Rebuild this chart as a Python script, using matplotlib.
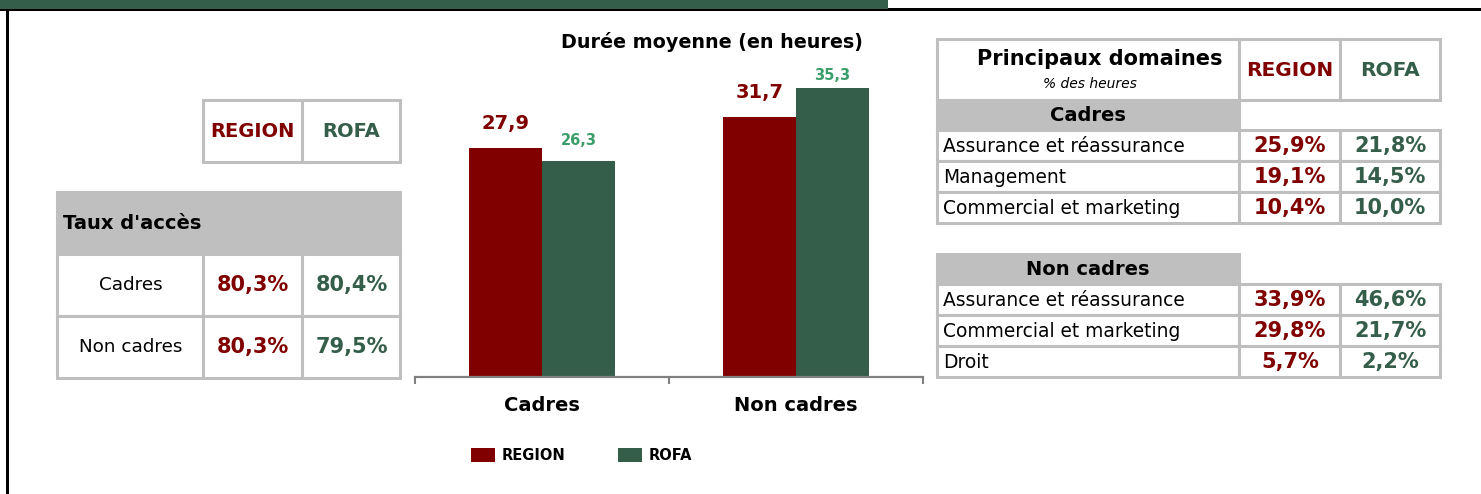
import matplotlib
matplotlib.use("Agg")
import matplotlib.pyplot as plt
from matplotlib.patches import Rectangle

# data
categories = ["Cadres", "Non cadres"]
duree_region = [27.9, 31.7]
duree_rofa = [26.3, 35.3]

acces_labels = ["Cadres", "Non cadres"]
acces_region = [80.3, 80.3]
acces_rofa = [80.4, 79.5]

cadres_domaines = ["Assurance et réassurance", "Management", "Commercial et marketing"]
cadres_region = [25.9, 19.1, 10.4]
cadres_rofa = [21.8, 14.5, 10.0]

noncadres_domaines = ["Assurance et réassurance", "Commercial et marketing", "Droit"]
noncadres_region = [33.9, 29.8, 5.7]
noncadres_rofa = [46.6, 21.7, 2.2]

RED = "#800000"
GREEN = "#355E4A"
LIGHTGREEN = "#3A9E6A"
GRAY = "#BFBFBF"


def fr(v, pct=False):
    s = f"{v:.1f}".replace(".", ",")
    return s + "%" if pct else s


W, H = 1481, 494
fig = plt.figure(figsize=(W / 100, H / 100), dpi=100)

# overlay axes in pixel coords for the frame and the tables
ax0 = fig.add_axes([0, 0, 1, 1])
ax0.set_xlim(0, W)
ax0.set_ylim(H, 0)
ax0.axis("off")

# frame: black lines + green band on top
ax0.add_patch(Rectangle((0, 8), W, 3, color="black", lw=0))
ax0.add_patch(Rectangle((6, 8), 3, H, color="black", lw=0))
ax0.add_patch(Rectangle((0, 0), 888, 9, color=GREEN, lw=0))


def cell(x0, y0, x1, y1, fill="white"):
    ax0.add_patch(Rectangle((x0, y0), x1 - x0, y1 - y0, facecolor=fill,
                            edgecolor=GRAY, lw=2.2))


# ---- left table : taux d'acces
cell(203, 100, 302, 162)
cell(302, 100, 400, 162)
ax0.text(252, 131, "REGION", color=RED, fontsize=14, fontweight="bold", ha="center", va="center")
ax0.text(351, 131, "ROFA", color=GREEN, fontsize=14, fontweight="bold", ha="center", va="center")

cell(57, 192, 400, 254, fill=GRAY)
ax0.text(63, 223, "Taux d'accès", fontsize=14, fontweight="bold", ha="left", va="center")

for i, lab in enumerate(acces_labels):
    y0 = 254 + i * 62
    cell(57, y0, 203, y0 + 62)
    cell(203, y0, 302, y0 + 62)
    cell(302, y0, 400, y0 + 62)
    ax0.text(131, y0 + 31, lab, fontsize=13.2, ha="center", va="center")
    ax0.text(253, y0 + 31, fr(acces_region[i], True), color=RED, fontsize=15,
             fontweight="bold", ha="center", va="center")
    ax0.text(352, y0 + 31, fr(acces_rofa[i], True), color=GREEN, fontsize=15,
             fontweight="bold", ha="center", va="center")

# ---- right table : principaux domaines
cell(937, 39, 1239, 100)
cell(1239, 39, 1340, 100)
cell(1340, 39, 1440, 100)
ax0.text(1100, 59, "Principaux domaines", fontsize=15, fontweight="bold", ha="center", va="center")
ax0.text(1090, 84, "% des heures", fontsize=10, style="italic", ha="center", va="center")
ax0.text(1290, 70, "REGION", color=RED, fontsize=14.5, fontweight="bold", ha="center", va="center")
ax0.text(1390, 70, "ROFA", color=GREEN, fontsize=14.5, fontweight="bold", ha="center", va="center")


def block(ytop, title, names, reg, rofa):
    cell(937, ytop, 1239, ytop + 30, fill=GRAY)
    ax0.text(1088, ytop + 15, title, fontsize=14, fontweight="bold", ha="center", va="center")
    for i, name in enumerate(names):
        y0 = ytop + 30 + i * 31
        cell(937, y0, 1239, y0 + 31)
        cell(1239, y0, 1340, y0 + 31)
        cell(1340, y0, 1440, y0 + 31)
        ax0.text(943, y0 + 16, name, fontsize=13.4, ha="left", va="center")
        ax0.text(1290, y0 + 16, fr(reg[i], True), color=RED, fontsize=15,
                 fontweight="bold", ha="center", va="center")
        ax0.text(1390, y0 + 16, fr(rofa[i], True), color=GREEN, fontsize=15,
                 fontweight="bold", ha="center", va="center")


block(100, "Cadres", cadres_domaines, cadres_region, cadres_rofa)
block(254, "Non cadres", noncadres_domaines, noncadres_region, noncadres_rofa)

# ---- bar chart : duree moyenne
ax = fig.add_axes([415 / W, 1 - 377 / H, 508 / W, 328 / H])
ax.patch.set_alpha(0)
x = range(len(categories))
bw = 0.287
b1 = ax.bar([i - bw / 2 for i in x], duree_region, bw, color=RED, label="REGION")
b2 = ax.bar([i + bw / 2 for i in x], duree_rofa, bw, color=GREEN, label="ROFA")
ax.bar_label(b1, labels=[fr(v) for v in duree_region], padding=11, color=RED,
             fontsize=14, fontweight="bold")
# excel pushes the tallest label down a bit
rofa_pad = [9.5, 3]
for i, v in enumerate(duree_rofa):
    ax.annotate(fr(v), (i + bw / 2, v), xytext=(0, rofa_pad[i]), textcoords="offset points",
                ha="center", va="bottom", color=LIGHTGREEN, fontsize=10.5, fontweight="bold")
ax.set_xlim(-0.5, 1.5)
ax.set_ylim(0, 40)
for s in ["top", "right", "left"]:
    ax.spines[s].set_visible(False)
ax.spines["bottom"].set_color("#808080")
ax.spines["bottom"].set_linewidth(1.6)
ax.set_yticks([])
ax.set_xticks(list(x))
ax.set_xticklabels(categories, fontsize=14, fontweight="bold")
ax.tick_params(axis="x", which="major", length=0, pad=14)
ax.set_xticks([-0.5, 0.5, 1.5], minor=True)
ax.tick_params(axis="x", which="minor", length=5, width=1.5, color="#808080")

fig.text(712 / W, 1 - 42 / H, "Durée moyenne (en heures)", fontsize=13.8,
         fontweight="bold", ha="center", va="center")

fig.legend(handles=[b1, b2], loc="center", bbox_to_anchor=(582 / W, 1 - 455 / H),
           ncol=2, frameon=False, prop={"size": 10.5, "weight": "bold"},
           handlelength=1.6, handleheight=1.1, handletextpad=0.5, columnspacing=3.6)

plt.savefig("out.png", dpi=100)
plt.close()
